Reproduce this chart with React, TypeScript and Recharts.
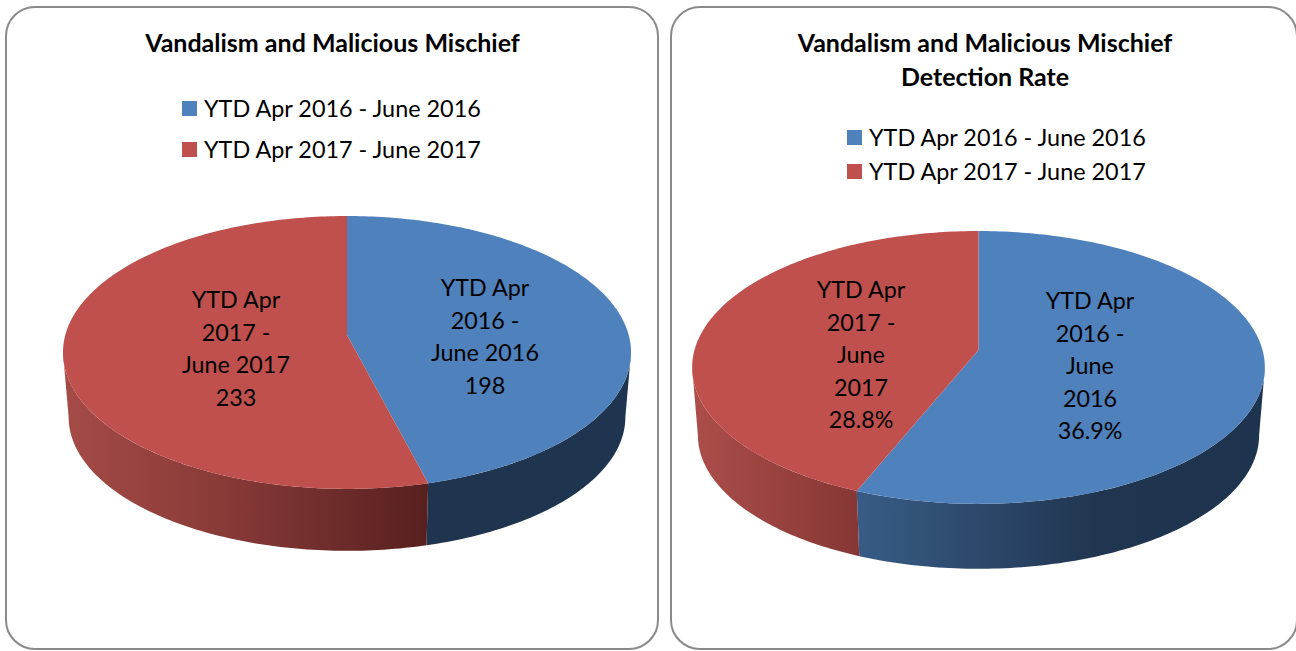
import React from "react";
import { PieChart, Pie, Legend } from "recharts";

const seriesNames = ["YTD Apr 2016 - June 2016", "YTD Apr 2017 - June 2017"];
const sliceColors = ["#4f81bd", "#c0504d"];
const countValues = [198, 233];
const rateValues = [36.9, 28.8];
const countLabelLines = [
  ["YTD Apr", "2016 -", "June 2016", "198"],
  ["YTD Apr", "2017 -", "June 2017", "233"],
];
const rateLabelLines = [
  ["YTD Apr", "2016 -", "June", "2016", "36.9%"],
  ["YTD Apr", "2017 -", "June", "2017", "28.8%"],
];
const countTitle = ["Vandalism and Malicious Mischief"];
const rateTitle = ["Vandalism and Malicious Mischief", "Detection Rate"];

const FONT = "Lato, Carlito, sans-serif";
const PERSPECTIVE = 0.128;
const RIM_SCALE = 0.98;
const FRONT_LO = -172.65;
const FRONT_HI = -7.35;

type Stop = [number, string];
type Config = {
  id: string;
  left: number;
  width: number;
  cx: number;
  cy: number;
  radius: number;
  squash: number;
  depth: number;
  values: number[];
  lines: string[][];
  title: string[];
  titleX: number;
  labelCenters: [number, number][];
  legend: { x: number; y: number; gap: number };
  wallRange: [number, number][];
  wallStops: Stop[][];
};

const charts: Config[] = [
  {
    id: "count",
    left: 0,
    width: 664,
    cx: 347,
    cy: 335,
    radius: 281.7,
    squash: 0.4764,
    depth: 65,
    values: countValues,
    lines: countLabelLines,
    title: countTitle,
    titleX: 332.5,
    labelCenters: [[485, 336], [236, 348]],
    legend: { x: 182, y: 108, gap: 41 },
    wallRange: [[427, 631], [63, 427]],
    wallStops: [
      [[0, "#1f344e"], [1, "#1f344e"]],
      [[0, "#a54b46"], [0.45, "#873a37"], [1, "#57201f"]],
    ],
  },
  {
    id: "rate",
    left: 664,
    width: 632,
    cx: 314.5,
    cy: 350,
    radius: 284,
    squash: 0.4725,
    depth: 68,
    values: rateValues,
    lines: rateLabelLines,
    title: rateTitle,
    titleX: 321,
    labelCenters: [[426, 365], [197, 354]],
    legend: { x: 183, y: 137, gap: 34 },
    wallRange: [[193, 601], [28, 193]],
    wallStops: [
      [[0, "#385c86"], [0.6, "#20354f"], [1, "#1e334d"]],
      [[0, "#ac4e49"], [1, "#863735"]],
    ],
  },
];

const rad = (a: number) => (a * Math.PI) / 180;

function point(c: Config, angle: number) {
  const w = 1 + PERSPECTIVE * Math.sin(rad(angle));
  return {
    dx: (c.radius * Math.cos(rad(angle))) / w,
    dy: (-c.radius * c.squash * Math.sin(rad(angle))) / w,
  };
}

function arcAngles(from: number, to: number) {
  const n = Math.max(2, Math.ceil(Math.abs(from - to)));
  return Array.from({ length: n + 1 }, (_, i) => from + ((to - from) * i) / n);
}

function makeShape(c: Config) {
  return (props: any) => {
    const { cx, cy, startAngle, endAngle, fill } = props;
    const index = sliceColors.indexOf(fill);
    const top = arcAngles(startAngle, endAngle).map((a) => {
      const p = point(c, a);
      return `${(cx + p.dx).toFixed(2)},${(cy + p.dy).toFixed(2)}`;
    });
    const hi = Math.min(startAngle, FRONT_HI);
    const lo = Math.max(endAngle, FRONT_LO);
    let wall = "";
    if (hi > lo) {
      const angles = arcAngles(hi, lo);
      const upper = angles.map((a) => {
        const p = point(c, a);
        return `${(cx + p.dx).toFixed(2)},${(cy + p.dy).toFixed(2)}`;
      });
      const lower = [...angles].reverse().map((a) => {
        const p = point(c, a);
        return `${(cx + p.dx * RIM_SCALE).toFixed(2)},${(cy + p.dy * RIM_SCALE + c.depth).toFixed(2)}`;
      });
      wall = `M${upper.join("L")}L${lower.join("L")}Z`;
    }
    return (
      <g>
        {wall && <path d={wall} fill={`url(#wall-${c.id}-${index})`} stroke="none" />}
        <path d={`M${cx},${cy}L${top.join("L")}Z`} fill={fill} stroke="none" />
      </g>
    );
  };
}

function makeLabel(c: Config) {
  return (props: any) => {
    const lines = c.lines[props.index];
    const [x, y] = c.labelCenters[props.index];
    const lineHeight = 32.5;
    const first = y - ((lines.length - 1) * lineHeight) / 2;
    return (
      <text
        key={props.index}
        x={x}
        textAnchor="middle"
        dominantBaseline="central"
        fontFamily={FONT}
        fontSize={23.3}
        fill="#000"
      >
        {lines.map((line, i) => (
          <tspan key={i} x={x} y={first + i * lineHeight}>
            {line}
          </tspan>
        ))}
      </text>
    );
  };
}

function LegendBox({ payload, c }: any) {
  return (
    <div style={{ position: "relative", fontFamily: FONT }}>
      {(payload || []).map((entry: any, i: number) => (
        <div
          key={i}
          style={{
            position: "absolute",
            left: c.legend.x,
            top: c.legend.y + i * c.legend.gap - 16,
            height: 32,
            lineHeight: "32px",
            whiteSpace: "nowrap",
            fontSize: 23.4,
            color: "#000",
          }}
        >
          <span
            style={{
              position: "absolute",
              left: 0,
              top: 9,
              width: 15,
              height: 15,
              background: entry.color,
            }}
          />
          <span style={{ position: "absolute", left: 22 }}>{entry.value}</span>
        </div>
      ))}
    </div>
  );
}

function ChartPanel({ c }: { c: Config }) {
  const data = seriesNames.map((name, i) => ({
    name,
    value: c.values[i],
    fill: sliceColors[i],
  }));
  return (
    <div style={{ position: "absolute", left: c.left, top: 0 }}>
      <PieChart
        width={c.width}
        height={651}
        accessibilityLayer={false}
        margin={{ top: 0, right: 0, bottom: 0, left: 0 }}
      >
        <defs>
          {c.wallStops.map((stops, i) => (
            <linearGradient
              key={i}
              id={`wall-${c.id}-${i}`}
              gradientUnits="userSpaceOnUse"
              x1={c.wallRange[i][0]}
              x2={c.wallRange[i][1]}
              y1={0}
              y2={0}
            >
              {stops.map(([o, col], j) => (
                <stop key={j} offset={o} stopColor={col} />
              ))}
            </linearGradient>
          ))}
        </defs>
        {c.title.map((t, i) => (
          <text
            key={i}
            x={c.titleX}
            y={42 + i * 33.5}
            textAnchor="middle"
            dominantBaseline="central"
            fontFamily={FONT}
            fontWeight={700}
            fontSize={25}
            fill="#000"
          >
            {t}
          </text>
        ))}
        <Pie
          data={data}
          dataKey="value"
          nameKey="name"
          cx={c.cx}
          cy={c.cy}
          outerRadius={c.radius}
          startAngle={90}
          endAngle={-270}
          stroke="none"
          isAnimationActive={false}
          labelLine={false}
          label={makeLabel(c)}
          shape={makeShape(c)}
        />
        <Legend
          content={<LegendBox c={c} />}
          wrapperStyle={{ position: "absolute", left: 0, top: 0, width: c.width, height: 0 }}
        />
      </PieChart>
    </div>
  );
}

const panelStyle: React.CSSProperties = {
  position: "absolute",
  top: 6,
  height: 644,
  boxSizing: "border-box",
  border: "2px solid #8a8a8a",
  borderRadius: 30,
  background: "#fff",
};

export default function App() {
  return (
    <div
      style={{
        position: "absolute",
        left: 0,
        top: 0,
        width: 1296,
        height: 651,
        overflow: "hidden",
        background: "#fff",
      }}
    >
      <div style={{ ...panelStyle, left: 5, width: 654 }} />
      <div style={{ ...panelStyle, left: 670, width: 628 }} />
      {charts.map((c) => (
        <ChartPanel key={c.id} c={c} />
      ))}
    </div>
  );
}
